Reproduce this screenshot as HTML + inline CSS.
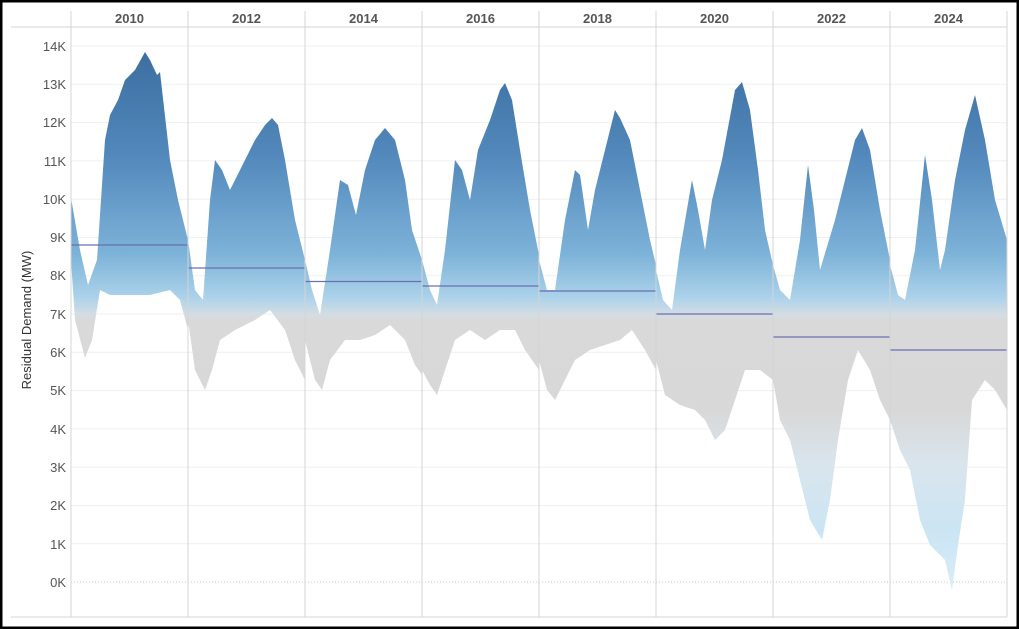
<!DOCTYPE html>
<html><head><meta charset="utf-8"><style>
html,body{margin:0;padding:0;background:#fff}
svg{display:block;font-family:"Liberation Sans",Arial,sans-serif}
</style></head><body>
<svg width="1019" height="629" viewBox="0 0 1019 629" xmlns="http://www.w3.org/2000/svg">
<defs>
<linearGradient id="g" gradientUnits="userSpaceOnUse" x1="0" y1="40" x2="0" y2="600">
<stop offset="0" stop-color="#3a6c9d"/>
<stop offset="0.2" stop-color="#5187ba"/>
<stop offset="0.38" stop-color="#7cb2d8"/>
<stop offset="0.46" stop-color="#acd2ea"/>
<stop offset="0.49" stop-color="#d3dde3"/>
<stop offset="0.5" stop-color="#d9d9d9"/>
<stop offset="0.66" stop-color="#d8d8d8"/>
<stop offset="0.76" stop-color="#d9e5ed"/>
<stop offset="0.88" stop-color="#cbe5f4"/>
<stop offset="1" stop-color="#dbeff9"/>
</linearGradient>
</defs>
<rect x="1" y="1" width="1017" height="627" fill="#fff" stroke="#000" stroke-width="3"/>
<g stroke="#efefef" stroke-width="1">
<line x1="71" x2="1007" y1="46" y2="46"/><line x1="71" x2="1007" y1="84.3" y2="84.3"/>
<line x1="71" x2="1007" y1="122.6" y2="122.6"/><line x1="71" x2="1007" y1="160.9" y2="160.9"/>
<line x1="71" x2="1007" y1="199.2" y2="199.2"/><line x1="71" x2="1007" y1="237.5" y2="237.5"/>
<line x1="71" x2="1007" y1="275.8" y2="275.8"/><line x1="71" x2="1007" y1="314" y2="314"/>
<line x1="71" x2="1007" y1="352.3" y2="352.3"/><line x1="71" x2="1007" y1="390.6" y2="390.6"/>
<line x1="71" x2="1007" y1="428.9" y2="428.9"/><line x1="71" x2="1007" y1="467.2" y2="467.2"/>
<line x1="71" x2="1007" y1="505.5" y2="505.5"/><line x1="71" x2="1007" y1="543.8" y2="543.8"/>
</g>
<line x1="71" x2="1007" y1="582" y2="582" stroke="#ccc" stroke-dasharray="1,2"/>
<g fill="url(#g)">
<polygon points="71,198 80,250 88,285 97,260 105,140 110,115 118,100 125,80 135,70 145,52 150,60 157,75 160,72 170,160 178,200 188,240 188,330 180,300 170,290 150,295 130,295 110,295 100,290 92,340 85,358 75,320 71,260"/>
<polygon points="188,240 195,290 203,300 210,200 215,160 222,170 230,190 240,170 255,140 265,125 272,118 278,125 285,160 295,220 305,260 305,380 295,360 285,330 270,310 255,320 235,330 220,340 212,370 205,390 195,370 188,320"/>
<polygon points="305,260 312,290 320,315 330,250 340,180 348,185 356,215 365,170 375,140 385,128 395,140 405,180 412,230 422,260 422,375 415,365 405,340 390,325 375,335 360,340 345,340 330,360 322,390 315,380 305,340"/>
<polygon points="422,260 430,290 437,305 445,250 455,160 462,170 470,200 478,150 490,120 500,90 505,83 512,100 520,150 530,210 539,255 539,370 525,350 515,330 500,330 485,340 470,330 455,340 445,370 437,395 430,385 422,370"/>
<polygon points="539,260 547,290 555,290 565,220 575,170 580,175 588,230 595,190 605,150 615,110 620,118 630,140 640,190 650,240 656,265 656,370 645,350 632,330 620,340 605,345 590,350 575,360 565,380 555,400 547,390 539,360"/>
<polygon points="656,270 663,300 672,310 680,250 692,180 698,210 705,250 712,200 722,160 735,90 742,82 750,110 758,170 765,230 773,265 773,380 760,370 745,370 735,400 725,430 715,440 705,420 695,410 680,405 665,395 656,360"/>
<polygon points="773,265 780,290 790,300 800,240 808,165 814,210 820,270 826,250 835,220 845,180 855,140 862,128 870,150 880,210 890,260 890,420 880,400 870,370 858,350 848,380 838,440 830,500 822,540 810,520 800,480 790,440 780,420 773,380"/>
<polygon points="890,265 898,295 905,300 915,250 925,155 932,200 940,270 945,250 955,180 965,130 975,95 985,140 995,200 1007,240 1007,410 995,390 985,380 972,400 965,500 958,545 952,590 945,560 930,545 920,520 910,470 900,450 890,420"/>
</g>
<g stroke="#6a6fb0" stroke-width="1.3">
<line x1="71" x2="188" y1="245" y2="245"/><line x1="188" x2="305" y1="268" y2="268"/>
<line x1="305" x2="422" y1="281.5" y2="281.5"/><line x1="422" x2="539" y1="286" y2="286"/>
<line x1="539" x2="656" y1="291" y2="291"/><line x1="656" x2="773" y1="314" y2="314"/>
<line x1="773" x2="890" y1="337" y2="337"/><line x1="890" x2="1007" y1="350" y2="350"/>
</g>
<g stroke="#d4d4d4" stroke-width="1">
<line x1="71" x2="71" y1="11" y2="617"/><line x1="188" x2="188" y1="11" y2="617"/>
<line x1="305" x2="305" y1="11" y2="617"/><line x1="422" x2="422" y1="11" y2="617"/>
<line x1="539" x2="539" y1="11" y2="617"/><line x1="656" x2="656" y1="11" y2="617"/>
<line x1="773" x2="773" y1="11" y2="617"/><line x1="890" x2="890" y1="11" y2="617"/>
<line x1="1007" x2="1007" y1="11" y2="617"/>
<line x1="11" x2="1007" y1="27" y2="27"/><line x1="11" x2="1007" y1="617" y2="617"/>
</g>
<g font-size="13" font-weight="bold" fill="#555" text-anchor="middle">
<text x="129.5" y="23">2010</text><text x="246.5" y="23">2012</text><text x="363.5" y="23">2014</text>
<text x="480.5" y="23">2016</text><text x="597.5" y="23">2018</text><text x="714.5" y="23">2020</text>
<text x="831.5" y="23">2022</text><text x="948.5" y="23">2024</text>
</g>
<g font-size="13" fill="#555" text-anchor="end">
<text x="66" y="51">14K</text><text x="66" y="89">13K</text><text x="66" y="127">12K</text>
<text x="66" y="166">11K</text><text x="66" y="204">10K</text><text x="66" y="242">9K</text>
<text x="66" y="280">8K</text><text x="66" y="319">7K</text><text x="66" y="357">6K</text>
<text x="66" y="395">5K</text><text x="66" y="434">4K</text><text x="66" y="472">3K</text>
<text x="66" y="510">2K</text><text x="66" y="549">1K</text><text x="66" y="587">0K</text>
</g>
<text transform="translate(31,320) rotate(-90)" font-size="13" fill="#333" text-anchor="middle">Residual Demand (MW)</text>
</svg>
</body></html>
